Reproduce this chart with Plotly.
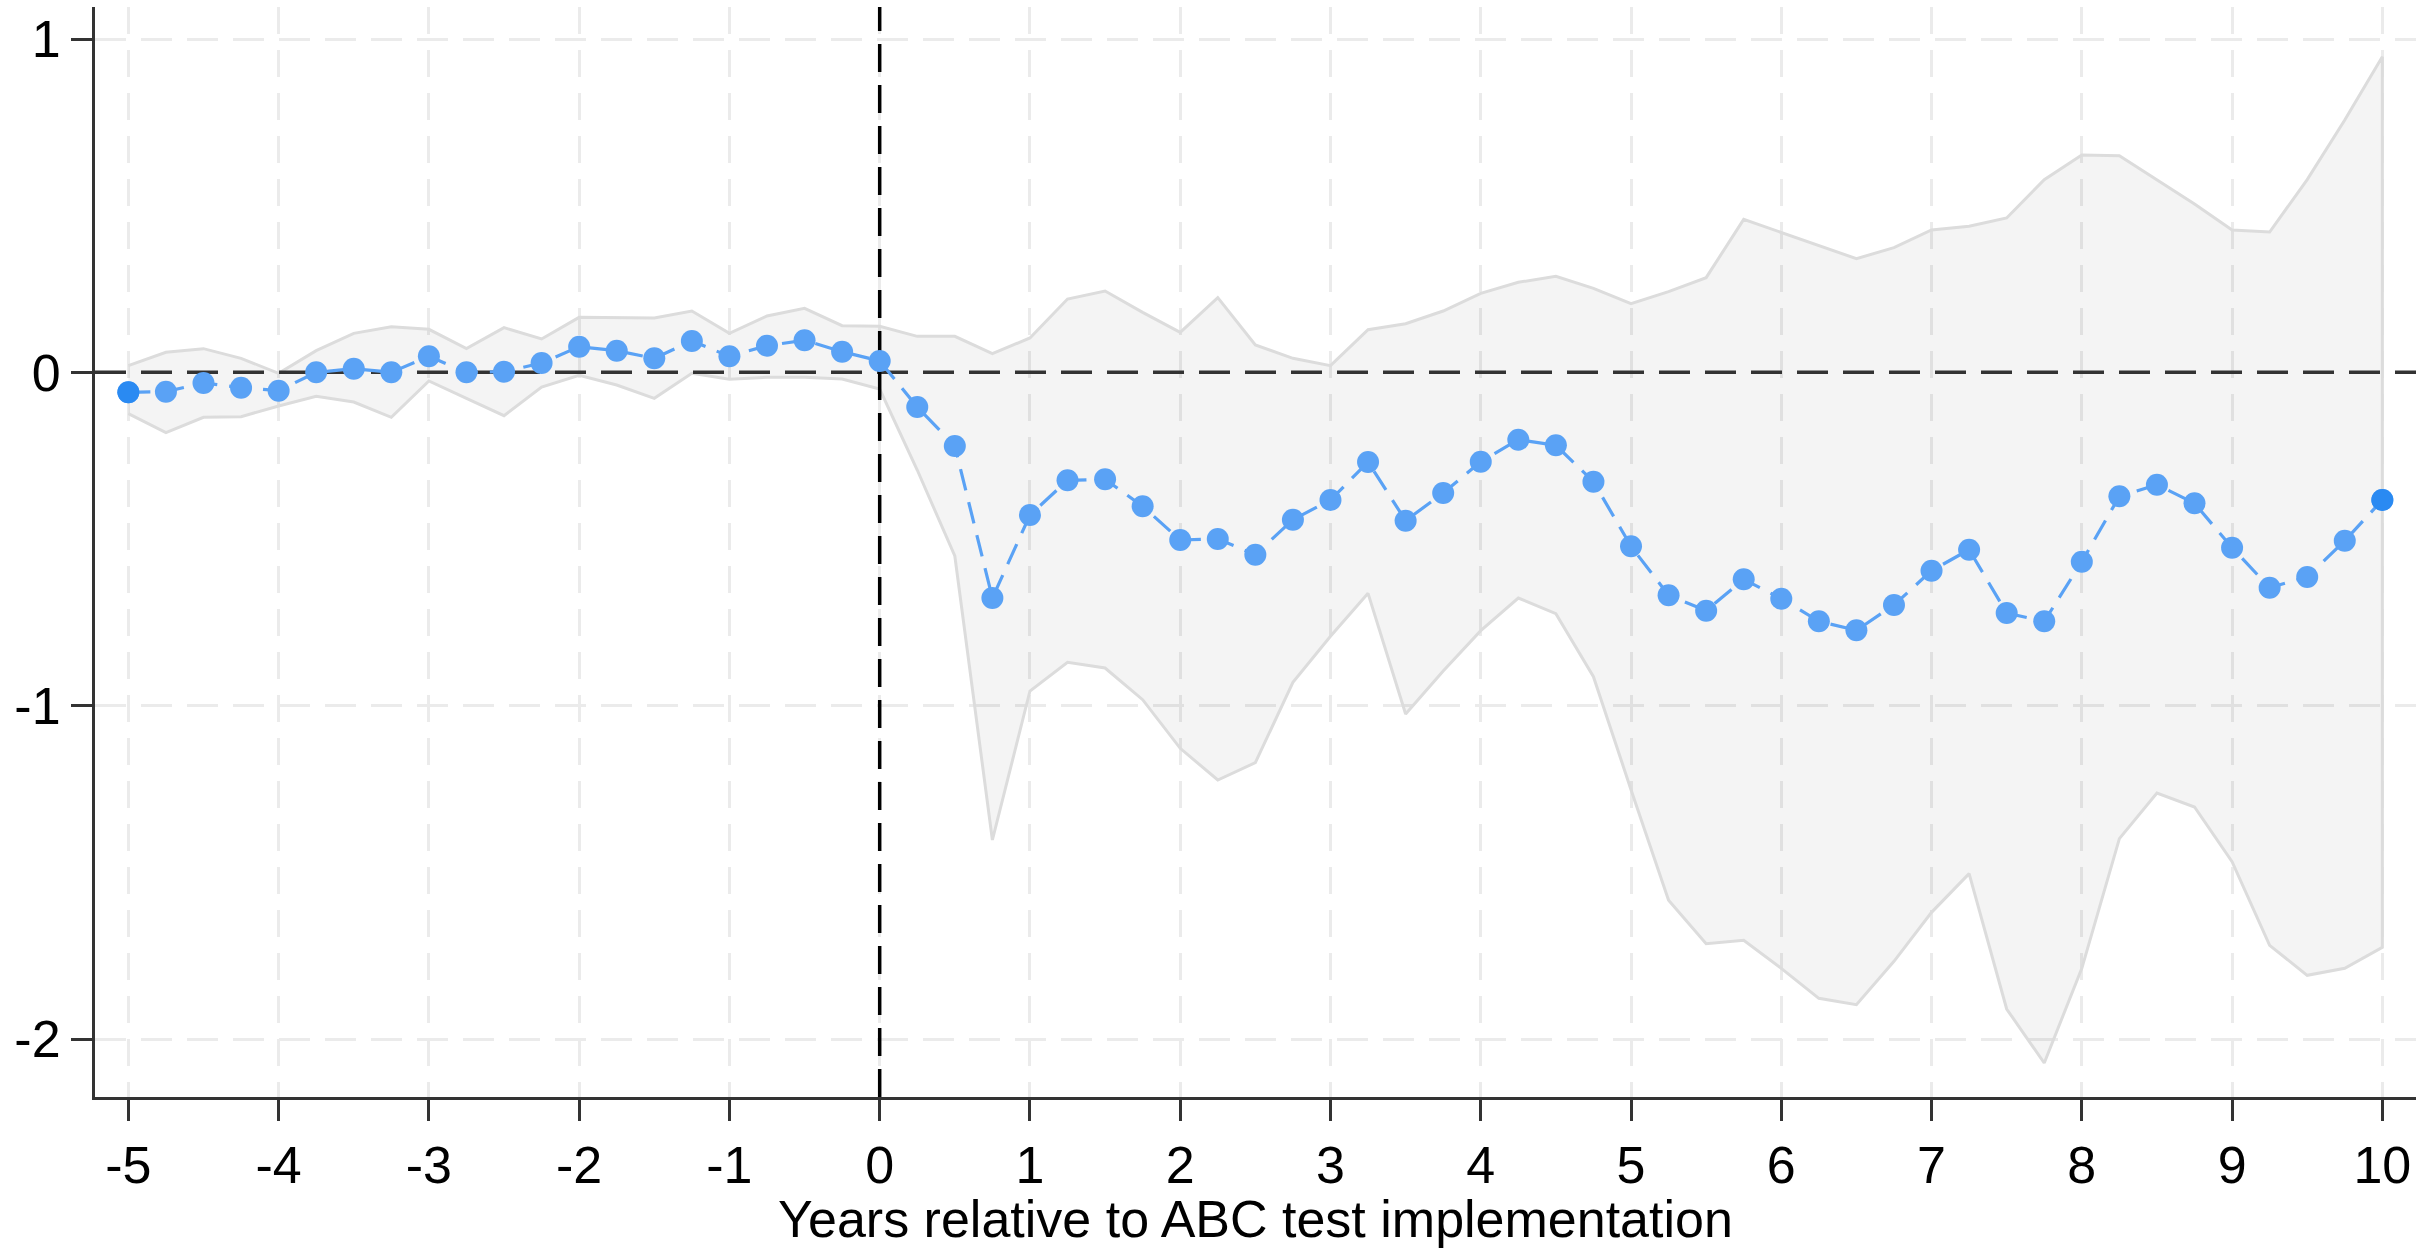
import plotly.graph_objects as go

# Event time (years relative to ABC test implementation), quarterly
event_time = [-5.0, -4.75, -4.5, -4.25, -4.0, -3.75, -3.5, -3.25, -3.0, -2.75, -2.5, -2.25,
              -2.0, -1.75, -1.5, -1.25, -1.0, -0.75, -0.5, -0.25, 0.0, 0.25, 0.5, 0.75,
              1.0, 1.25, 1.5, 1.75, 2.0, 2.25, 2.5, 2.75, 3.0, 3.25, 3.5, 3.75,
              4.0, 4.25, 4.5, 4.75, 5.0, 5.25, 5.5, 5.75, 6.0, 6.25, 6.5, 6.75,
              7.0, 7.25, 7.5, 7.75, 8.0, 8.25, 8.5, 8.75, 9.0, 9.25, 9.5, 9.75, 10.0]

coef = [-0.060, -0.058, -0.032, -0.046, -0.055, 0.000, 0.011, 0.000, 0.048, 0.000, 0.002, 0.028,
        0.077, 0.065, 0.042, 0.094, 0.048, 0.080, 0.096, 0.062, 0.034, -0.104, -0.221, -0.677,
        -0.428, -0.324, -0.321, -0.402, -0.503, -0.500, -0.547, -0.442, -0.383, -0.269, -0.445, -0.362,
        -0.268, -0.202, -0.219, -0.328, -0.522, -0.669, -0.715, -0.621, -0.679, -0.747, -0.774, -0.698,
        -0.595, -0.532, -0.722, -0.747, -0.568, -0.372, -0.337, -0.393, -0.526, -0.646, -0.614, -0.505, -0.383]

ci_upper = [0.020, 0.060, 0.071, 0.042, -0.003, 0.065, 0.117, 0.137, 0.129, 0.071, 0.134, 0.100,
            0.165, 0.165, 0.163, 0.184, 0.117, 0.169, 0.192, 0.140, 0.138, 0.108, 0.108, 0.056,
            0.103, 0.220, 0.244, 0.180, 0.120, 0.224, 0.082, 0.042, 0.020, 0.128, 0.146, 0.184,
            0.237, 0.270, 0.288, 0.252, 0.206, 0.242, 0.284, 0.459, 0.419, 0.381, 0.341, 0.374,
            0.427, 0.438, 0.463, 0.578, 0.652, 0.650, 0.578, 0.505, 0.427, 0.421, 0.578, 0.757, 0.947]

ci_lower = [-0.124, -0.181, -0.135, -0.133, -0.101, -0.072, -0.089, -0.135, -0.026, -0.078, -0.130, -0.044,
            -0.009, -0.038, -0.078, -0.003, -0.021, -0.015, -0.015, -0.020, -0.050, -0.293, -0.551, -1.403,
            -0.956, -0.870, -0.887, -0.982, -1.128, -1.223, -1.171, -0.930, -0.792, -0.663, -1.025, -0.896,
            -0.775, -0.677, -0.724, -0.913, -1.252, -1.584, -1.714, -1.704, -1.788, -1.878, -1.897, -1.767,
            -1.620, -1.504, -1.910, -2.072, -1.788, -1.399, -1.262, -1.304, -1.468, -1.719, -1.809, -1.788, -1.725]

x_ticks = [-5, -4, -3, -2, -1, 0, 1, 2, 3, 4, 5, 6, 7, 8, 9, 10]
y_ticks = [-2, -1, 0, 1]
x_title = "Years relative to ABC test implementation"

# Axis ranges and reference-line position (treatment onset / null effect)
x_range = [-5.222, 10.224]
y_range = [-2.174, 1.096]
ref_x = 0
ref_y = 0

FONT = "Arial, 'Liberation Sans', sans-serif"
BLUE = "#5aa2f5"
BLUE_END = "#2a8af2"

fig = go.Figure()

# Confidence band (closed polygon)
fig.add_trace(go.Scatter(
    x=event_time + event_time[::-1],
    y=ci_upper + ci_lower[::-1],
    fill="toself",
    fillcolor="rgba(0,0,0,0.045)",
    line=dict(color="#dcdcdc", width=3),
    mode="lines",
    hoverinfo="skip",
    showlegend=False,
))

# Reference lines: y = 0 (dark gray dashed) and x = 0 (black dashed)
fig.add_trace(go.Scatter(
    x=x_range, y=[ref_y, ref_y], mode="lines",
    line=dict(color="#333333", width=3.5, dash="31px,15px"),
    hoverinfo="skip", showlegend=False,
))
fig.add_trace(go.Scatter(
    x=[ref_x, ref_x], y=y_range, mode="lines",
    line=dict(color="#000000", width=3.5, dash="28px,13px"),
    hoverinfo="skip", showlegend=False,
))

# Point estimates
fig.add_trace(go.Scatter(
    x=event_time, y=coef,
    mode="lines+markers",
    line=dict(color=BLUE, width=3.2, dash="22px,12px"),
    marker=dict(color=BLUE, size=22),
    showlegend=False,
))

# Endpoints drawn slightly more saturated, as in the original
fig.add_trace(go.Scatter(
    x=[event_time[0], event_time[-1]], y=[coef[0], coef[-1]],
    mode="markers",
    marker=dict(color=BLUE_END, size=22),
    showlegend=False,
))

fig.update_layout(
    width=2420, height=1248,
    margin=dict(l=95, r=4, t=7, b=151),
    paper_bgcolor="white", plot_bgcolor="white",
    font=dict(family=FONT, size=52, color="black"),
)

fig.update_xaxes(
    range=x_range,
    tickvals=x_ticks, ticktext=[str(v) for v in x_ticks],
    showline=True, linecolor="#333333", linewidth=3,
    ticks="outside", ticklen=21, tickwidth=3, tickcolor="#333333",
    showgrid=True, gridcolor="#ebebeb", gridwidth=3, griddash="27px,16px",
    zeroline=False,
    tickfont=dict(size=52, family=FONT, color="black"),
    title=dict(text=x_title, font=dict(size=52, family=FONT, color="black"), standoff=10),
)
fig.update_yaxes(
    range=y_range,
    tickvals=y_ticks, ticktext=[str(v) for v in y_ticks],
    showline=True, linecolor="#333333", linewidth=3,
    ticks="outside", ticklen=21, tickwidth=3, tickcolor="#333333",
    showgrid=True, gridcolor="#ebebeb", gridwidth=3, griddash="31px,15px",
    zeroline=False,
    tickfont=dict(size=52, family=FONT, color="black"),
)

fig.write_html("out.html")
